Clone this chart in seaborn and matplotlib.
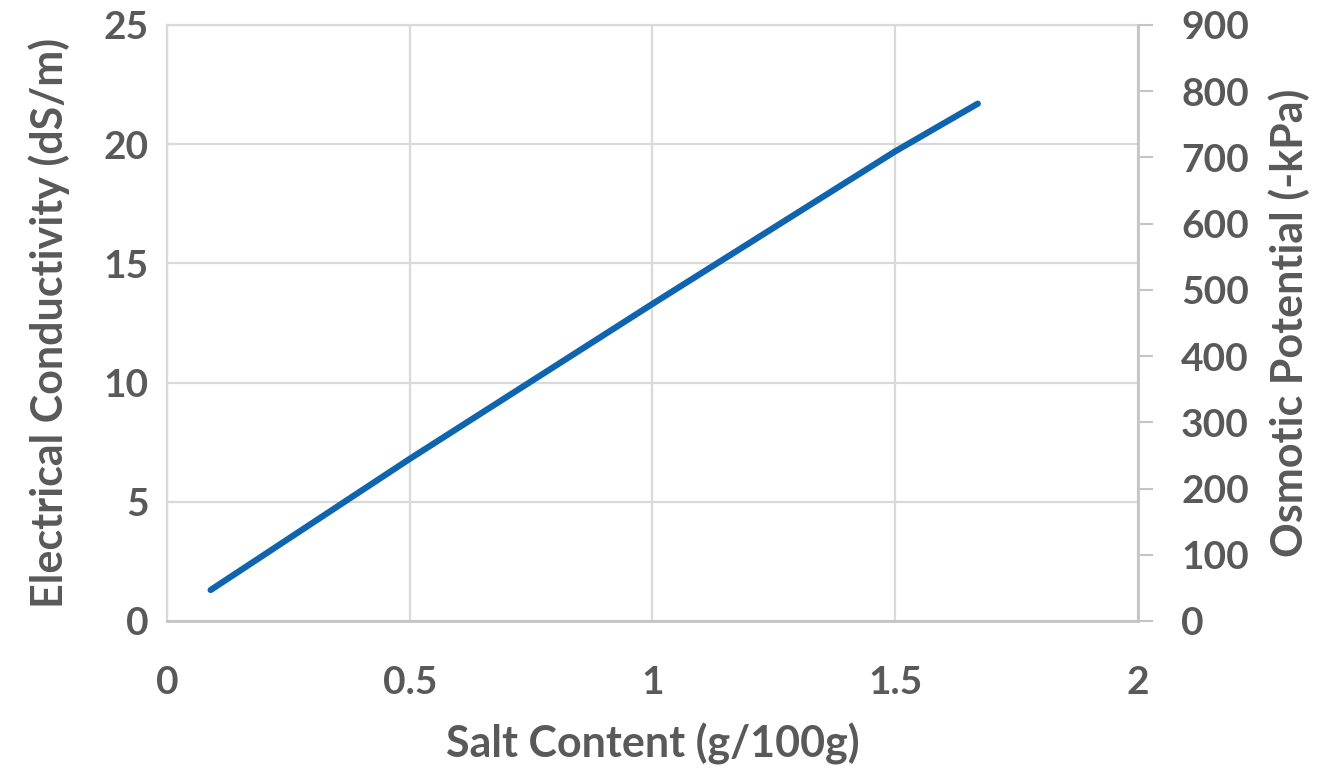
import numpy as np
import pandas as pd
import matplotlib
matplotlib.use("Agg")
import matplotlib.pyplot as plt
import seaborn as sns

# values
salt = [0.09, 0.5, 1.0, 1.5, 1.67]          # g/100g
ec = [1.3, 6.8, 13.3, 19.7, 21.7]           # dS/m
osmotic = [47, 245, 479, 709, 781]          # -kPa
x_ticks = [0, 0.5, 1, 1.5, 2]
ec_ticks = [0, 5, 10, 15, 20, 25]
op_ticks = [0, 100, 200, 300, 400, 500, 600, 700, 800, 900]

df = pd.DataFrame({"salt": salt, "ec": ec, "op": osmotic})

sns.set_style("white")
plt.rcParams['font.family'] = ['Lato', 'DejaVu Sans']
txt = "#595959"
grid = "#d9d9d9"

fig = plt.figure(figsize=(13.27, 7.78), dpi=100)
ax = fig.add_axes([0.1258, 0.2018, 0.7318, 0.7661])

sns.lineplot(data=df, x="salt", y="ec", ax=ax, color="#0f64b0", linewidth=4.5,
             solid_capstyle="round")

ax.set_xlim(0, 2)
ax.set_ylim(0, 25)
ax.set_xticks(x_ticks)
ax.set_xticklabels(["0", "0.5", "1", "1.5", "2"])
ax.set_yticks(ec_ticks)
ax.grid(True, color=grid, linewidth=1.6)
ax.set_axisbelow(True)
for s in ["top", "left"]:
    ax.spines[s].set_color(grid)
    ax.spines[s].set_linewidth(1.6)
ax.spines["right"].set_visible(False)
ax.spines["bottom"].set_color("#c4c4c4")
ax.spines["bottom"].set_linewidth(2)
ax.tick_params(axis="both", length=0, labelsize=28, labelcolor=txt)
ax.tick_params(axis="x", pad=32)
ax.tick_params(axis="y", pad=13)
for lab in ax.get_xticklabels() + ax.get_yticklabels():
    lab.set_fontweight("bold")

ax.set_xlabel("Salt Content (g/100g)", fontsize=31, color=txt, fontweight="bold",
              labelpad=16)
ax.set_ylabel("Electrical Conductivity (dS/m)", fontsize=31, color=txt,
              fontweight="bold", labelpad=24)

ax2 = ax.twinx()
ax2.set_ylim(0, 900)
ax2.set_yticks(op_ticks)
for s in ["top", "left", "bottom"]:
    ax2.spines[s].set_visible(False)
ax2.spines["right"].set_color("#c4c4c4")
ax2.spines["right"].set_linewidth(2)
ax2.tick_params(axis="y", length=11, width=1.5, color="#c4c4c4", direction="out",
                labelsize=28, labelcolor=txt, pad=20)
for lab in ax2.get_yticklabels():
    lab.set_fontweight("bold")
ax2.set_ylabel("Osmotic Potential (-kPa)", fontsize=31, color=txt,
               fontweight="bold", labelpad=14)

fig.savefig("out.png", dpi=100)
